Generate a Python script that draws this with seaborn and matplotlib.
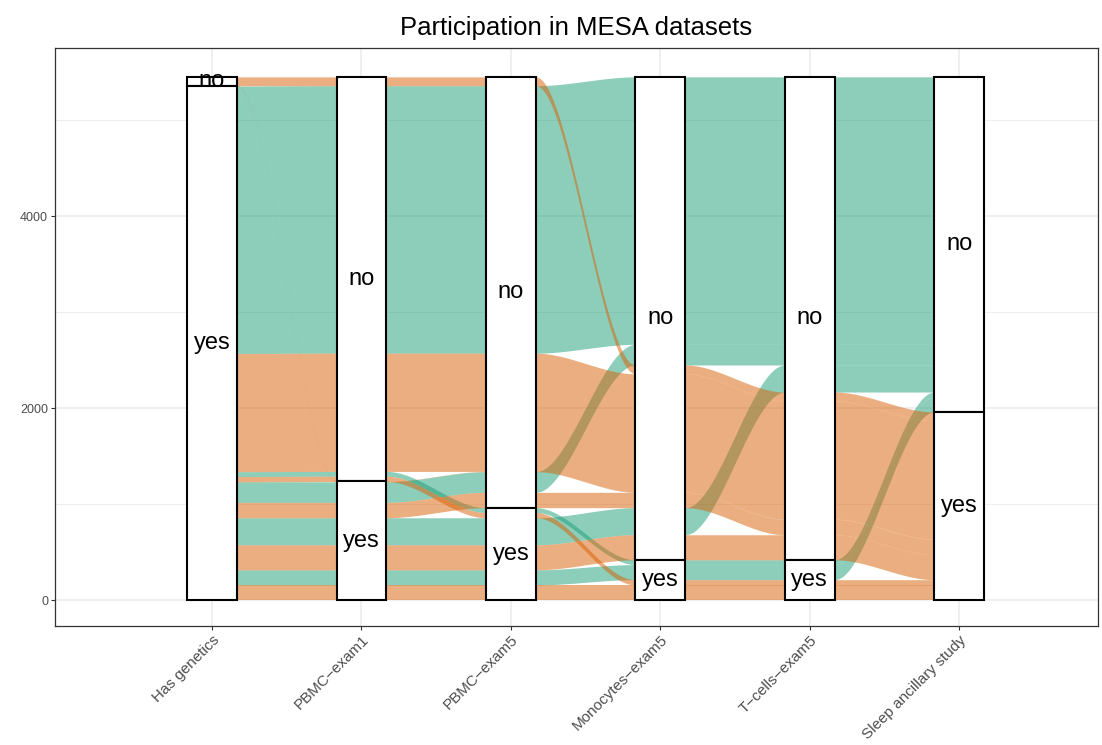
import matplotlib
matplotlib.use("Agg")
import matplotlib.pyplot as plt
from matplotlib.patches import Rectangle
import numpy as np
import seaborn as sns

# axes of the alluvial plot (left to right)
axis_labels = ["Has genetics", "PBMC\u2212exam1", "PBMC\u2212exam5",
               "Monocytes\u2212exam5", "T\u2212cells\u2212exam5", "Sleep ancillary study"]

# one entry per alluvium (combination of participation)
has_genetics = ["no", "no", "yes", "yes", "yes", "yes", "yes", "yes", "yes", "yes", "yes", "yes"]
pbmc_exam1   = ["no", "yes", "no", "no", "no", "no", "yes", "yes", "yes", "yes", "yes", "yes"]
pbmc_exam5   = ["no", "no", "no", "no", "yes", "yes", "no", "no", "yes", "yes", "yes", "yes"]
mono_exam5   = ["no", "no", "no", "no", "yes", "yes", "no", "no", "no", "no", "yes", "yes"]
tcell_exam5  = ["no", "no", "no", "no", "yes", "yes", "no", "no", "no", "no", "yes", "yes"]
sleep_study  = ["yes", "yes", "no", "yes", "no", "yes", "no", "yes", "no", "yes", "no", "yes"]
counts       = [92, 3, 2787, 1232, 50, 55, 215, 160, 282, 261, 157, 157]

levels = ["no", "yes"]

sns.set_style("whitegrid")
plt.rcParams["font.family"] = ["Liberation Sans", "DejaVu Sans"]

cols = [has_genetics, pbmc_exam1, pbmc_exam5, mono_exam5, tcell_exam5, sleep_study]
n_ax = len(cols)
n_al = len(counts)
total = sum(counts)
width = 1 / 3

dark2 = sns.color_palette("Dark2", 2)
pal = {"no": dark2[0], "yes": dark2[1]}


def zigzag(n, i):
    # lode guidance like ggalluvial's "zigzag" (1-based axis index)
    order = [i]
    left_first = (i - 1) <= (n - i)
    for k in range(1, n):
        for j in ((i - k, i + k) if left_first else (i + k, i - k)):
            if 1 <= j <= n:
                order.append(j)
    return order


# lode positions: stack from the top, first level on top
tops = np.zeros((n_ax, n_al))
for i in range(n_ax):
    order = zigzag(n_ax, i + 1)
    keys = sorted(range(n_al),
                  key=lambda a: tuple(levels.index(cols[j - 1][a]) for j in order))
    y = total
    for a in keys:
        tops[i, a] = y
        y -= counts[a]

fig = plt.figure(figsize=(11.02, 7.45), dpi=100)
ax = fig.add_axes([0.0499, 0.1597, 0.9465, 0.7759])

xpos = np.arange(1, n_ax + 1)
t = np.linspace(0, 1, 60)
s = t * t * (3 - 2 * t)

# greens first, oranges on top (as ggplot draws by fill level)
draw_order = sorted(range(n_al), key=lambda a: levels.index(sleep_study[a]))
for a in draw_order:
    xs, yt = [], []
    for i in range(n_ax):
        xs += [xpos[i] - width / 2, xpos[i] + width / 2]
        yt += [tops[i, a], tops[i, a]]
        if i < n_ax - 1:
            x0, x1 = xpos[i] + width / 2, xpos[i + 1] - width / 2
            xs += list(x0 + (x1 - x0) * t[1:-1])
            yt += list(tops[i, a] + (tops[i + 1, a] - tops[i, a]) * s[1:-1])
    xs = np.array(xs)
    yt = np.array(yt)
    ax.fill_between(xs, yt - counts[a], yt, color=pal[sleep_study[a]],
                    alpha=0.5, linewidth=0, zorder=2)

# strata boxes with labels
for i in range(n_ax):
    y = total
    for lev in levels:
        h = sum(c for c, v in zip(counts, cols[i]) if v == lev)
        if h == 0:
            continue
        ax.add_patch(Rectangle((xpos[i] - width / 2, y - h), width, h,
                               facecolor="white", edgecolor="black",
                               linewidth=1.5, zorder=3))
        ax.text(xpos[i], y - h / 2, lev, ha="center", va="center",
                fontsize=17, color="black", zorder=4)
        y -= h

ax.set_xlim(-0.051, 6.93)
ax.set_ylim(-271, 5752)
ax.set_xticks(xpos)
ax.set_xticklabels(axis_labels, rotation=45, ha="right", va="top",
                   rotation_mode="anchor", fontsize=11, color="#4D4D4D")
ax.set_yticks([0, 2000, 4000])
ax.set_yticks([1000, 3000, 5000], minor=True)
ax.tick_params(axis="y", labelsize=9, labelcolor="#4D4D4D")
ax.tick_params(axis="both", which="major", length=3, width=0.8, pad=2,
               color="#333333", bottom=True, left=True)
ax.tick_params(axis="y", which="minor", length=0)
ax.grid(True, which="major", color="#EBEBEB", linewidth=1.1, zorder=0)
ax.grid(True, which="minor", axis="y", color="#EBEBEB", linewidth=0.6, zorder=0)
ax.set_axisbelow(True)
for sp in ax.spines.values():
    sp.set_visible(True)
    sp.set_color("#333333")
    sp.set_linewidth(0.9)
ax.set_xlabel("")
ax.set_ylabel("")
ax.set_title("Participation in MESA datasets", fontsize=18.5, pad=9, color="black")

fig.savefig("out.png", dpi=100)
